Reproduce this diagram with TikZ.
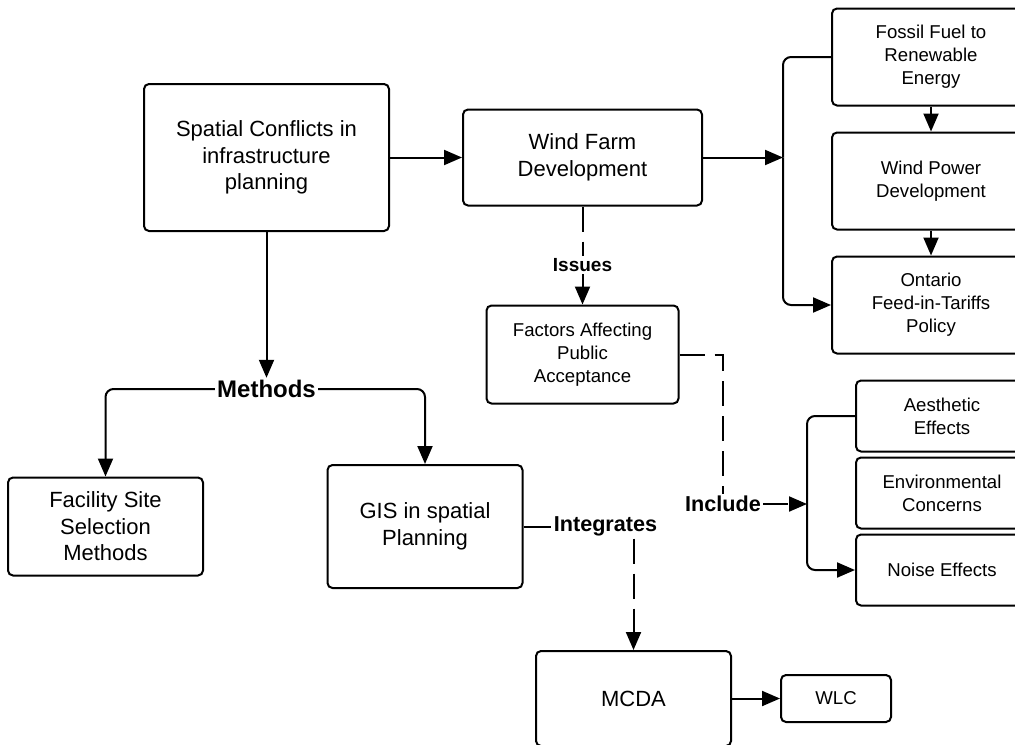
\documentclass[tikz,border=0pt]{standalone}
\usepackage{fontspec}
\setmainfont{Liberation Sans}
\usetikzlibrary{positioning, arrows.meta}

\newcommand{\boxfont}{\fontsize{11pt}{13.25pt}\selectfont}
\newcommand{\smallboxfont}{\fontsize{9.3pt}{11.5pt}\selectfont}

\begin{document}
\begin{tikzpicture}[
    % Node styles
    block/.style={
        rectangle,
        rounded corners=2.5pt,
        draw=black,
        line width=1pt,
        font=\boxfont,
        align=center,
        inner sep=2pt
    },
    smallblock/.style={
        block,
        font=\smallboxfont
    },
    linklabel/.style={
        font=\bfseries\fontsize{#1}{#1}\selectfont,
        inner sep=1pt
    },
    line/.style={
        line width=1pt,
        draw=black
    },
    arrow/.style={
        line,
        -{Triangle[length=9pt, width=7.5pt]}
    },
    dashedline/.style={
        line,
        dash pattern=on 12.5pt off 5pt
    },
    dashedarrow/.style={
        arrow,
        dash pattern=on 12.5pt off 5pt
    }
]

    \useasboundingbox (0,0) rectangle (507.5pt,-372pt);

    % ==== PROBLEM ====
    \node[block, minimum width=122.5pt, minimum height=73.5pt] (spatial) at (133.25pt,-78.75pt) {Spatial Conflicts in\\infrastructure\\planning};
    \node[block, right=36pt of spatial, minimum width=119.5pt, minimum height=48pt] (windfarm) {Wind Farm\\Development};

    % ==== ENERGY CONTEXT ====
    \node[smallblock, right=64pt of windfarm, yshift=-11.75pt, minimum width=99pt, minimum height=48.5pt] (windpower) {Wind Power\\Development};
    \node[smallblock, above=12.5pt of windpower, minimum width=99pt, minimum height=48.5pt] (fossil) {Fossil Fuel to\\Renewable\\Energy};
    \node[smallblock, below=12.5pt of windpower, minimum width=99pt, minimum height=48.5pt] (ontario) {Ontario\\Feed-in-Tariffs\\Policy};
    \coordinate[right=40pt of windfarm] (energybus);

    % ==== ACCEPTANCE ====
    \node[smallblock, below=49pt of windfarm, minimum width=96pt, minimum height=49pt] (factors) {Factors Affecting\\Public\\Acceptance};
    \node[smallblock, below=12.5pt of ontario, xshift=5.5pt, minimum width=86pt, minimum height=35.5pt] (aesthetic) {Aesthetic\\Effects};
    \node[smallblock, below=2pt of aesthetic, minimum width=86pt, minimum height=35.5pt] (environmental) {Environmental\\Concerns};
    \node[smallblock, below=2pt of environmental, minimum width=86pt, minimum height=35.5pt] (noise) {Noise Effects};
    \coordinate[left=24pt of environmental] (factorbus);

    % ==== METHODS ====
    \node[block, below=116pt of spatial, xshift=79.25pt, minimum width=97.5pt, minimum height=61.5pt] (gis) {GIS in spatial\\Planning};
    \node[block, left=61.25pt of gis, minimum width=97.5pt, minimum height=49pt] (facility) {Facility Site\\Selection\\Methods};
    \node[block, below=30.5pt of gis, xshift=104.25pt, minimum width=97.5pt, minimum height=47.5pt] (mcda) {MCDA};
    \node[smallblock, right=24pt of mcda, minimum width=55pt, minimum height=23.5pt] (wlc) {WLC};

    % ==== LINK LABELS ====
    \node[linklabel=12pt, below=78.5pt of spatial, anchor=center] (methods) {Methods};
    \node[linklabel=9.5pt, below=29.25pt of windfarm, anchor=center] (issues) {Issues};
    \node[linklabel=10.8pt, right=41pt of gis, anchor=center] (integrates) {Integrates};
    \node[linklabel=10.8pt, left=66pt of environmental, yshift=-5.5pt, anchor=center] (include) {Include};

    % ==== CONNECTIONS ====
    \draw[arrow] (spatial) -- (windfarm);
    \draw[arrow] (windfarm.east) -- (energybus);
    \draw[line, rounded corners=4pt] (fossil.west) -| (energybus);
    \draw[arrow, rounded corners=4pt] (energybus) |- (ontario.west);
    \draw[arrow] (fossil) -- (windpower);
    \draw[arrow] (windpower) -- (ontario);

    % Issues
    \draw[dashedline] (windfarm.south) -- (issues.north);
    \draw[dashedarrow] (issues.south) -- (factors.north);

    % Include
    \draw[dashedline] (factors.east) -| (include.north);
    \draw[dashedarrow] (include.east) -- (include.east -| factorbus);
    \draw[line, rounded corners=4pt] (aesthetic.west) -| (factorbus);
    \draw[arrow, rounded corners=4pt] (factorbus) |- (noise.west);

    % Methods
    \draw[arrow] (spatial.south) -- (methods.north);
    \draw[arrow, rounded corners=4pt] (methods.west) -| (facility.north);
    \draw[arrow, rounded corners=4pt] (methods.east) -| (gis.north);

    % Integrates
    \draw[line] (gis.east) -- (integrates.west);
    \draw[dashedarrow] (integrates.south -| mcda.north) -- (mcda.north);
    \draw[arrow] (mcda) -- (wlc);

\end{tikzpicture}
\end{document}
